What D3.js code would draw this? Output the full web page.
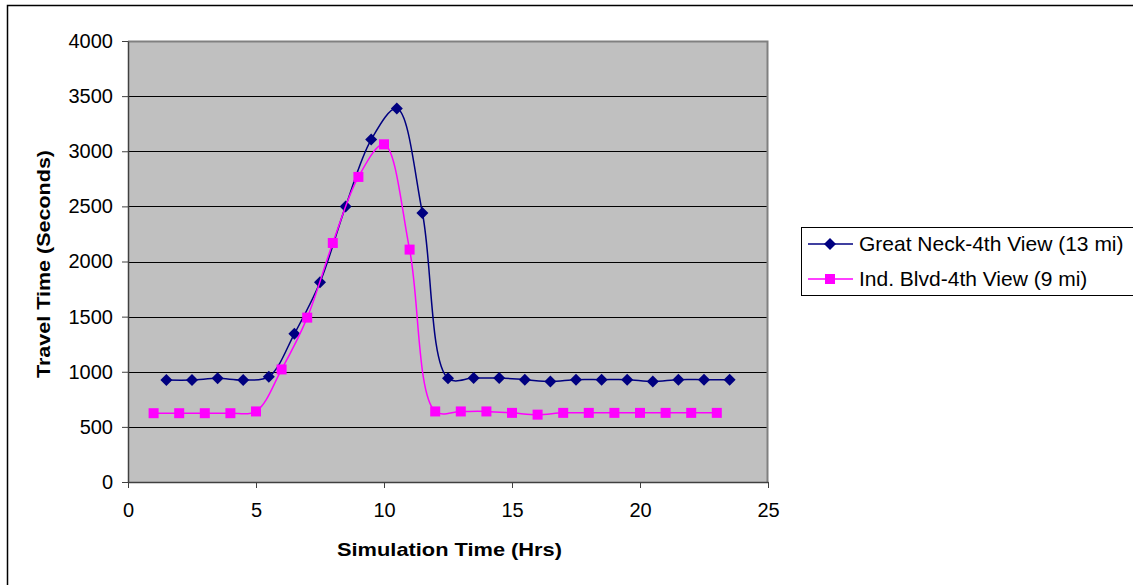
<!DOCTYPE html>
<html lang="en">
<head>
  <meta charset="utf-8">
  <title>Travel Time vs Simulation Time</title>
  <script src="https://d3js.org/d3.v7.min.js"></script>
  <style>
    body { margin: 0; background: #fff; }
    svg text { font-family: "Liberation Sans", Arial, sans-serif; fill: #000; }
  </style>
</head>
<body>
  <div id="chart"></div>
  <script>
    // data
    const greatNeckHrs = [1.5, 2.5, 3.5, 4.5, 5.5, 6.5, 7.5, 8.5, 9.5, 10.5, 11.5, 12.5,
      13.5, 14.5, 15.5, 16.5, 17.5, 18.5, 19.5, 20.5, 21.5, 22.5, 23.5];
    const greatNeckSecs = [925, 925, 940, 925, 955, 1344, 1811, 2500, 3106, 3387, 2440, 940,
      943, 943, 928, 912, 928, 928, 928, 912, 928, 928, 928];
    const indBlvdHrs = [1, 2, 3, 4, 5, 6, 7, 8, 9, 10, 11, 12,
      13, 14, 15, 16, 17, 18, 19, 20, 21, 22, 23];
    const indBlvdSecs = [624, 624, 624, 624, 640, 1021, 1491, 2168, 2767, 3063, 2108, 640,
      640, 640, 627, 611, 627, 627, 627, 627, 627, 627, 627];
    const seriesNames = ["Great Neck-4th View (13 mi)", "Ind. Blvd-4th View (9 mi)"];
    const xTicks = [0, 5, 10, 15, 20, 25];
    const yTicks = [0, 500, 1000, 1500, 2000, 2500, 3000, 3500, 4000];

    const width = 1133, height = 585;
    const plot = { left: 128, right: 768, top: 41, bottom: 482 };

    const svg = d3.select("#chart").append("svg")
      .attr("width", width)
      .attr("height", height);

    // outer chart border
    svg.append("rect")
      .attr("x", 7.5).attr("y", 5.5)
      .attr("width", width + 10).attr("height", height + 10)
      .attr("fill", "none").attr("stroke", "#000").attr("stroke-width", 1.5);

    const x = d3.scaleLinear().domain([0, 25]).range([plot.left, plot.right]);
    const y = d3.scaleLinear().domain([0, 4000]).range([plot.bottom, plot.top]);

    // plot background
    svg.append("rect")
      .attr("x", plot.left).attr("y", plot.top)
      .attr("width", plot.right - plot.left).attr("height", plot.bottom - plot.top)
      .attr("fill", "#c0c0c0");

    // gridlines
    svg.append("g")
      .selectAll("line")
      .data(yTicks.filter(d => d > 0 && d < 4000))
      .join("line")
      .attr("x1", plot.left).attr("x2", plot.right)
      .attr("y1", d => Math.round(y(d)) + 0.5).attr("y2", d => Math.round(y(d)) + 0.5)
      .attr("stroke", "#000").attr("stroke-width", 1);

    // plot border top/right
    svg.append("path")
      .attr("d", `M${plot.left},${plot.top + 0.5}H${plot.right - 0.5}V${plot.bottom}`)
      .attr("fill", "none").attr("stroke", "#808080").attr("stroke-width", 2);

    // axes
    const yAxis = svg.append("g")
      .attr("transform", `translate(${plot.left},0)`)
      .call(d3.axisLeft(y).tickValues(yTicks).tickFormat(d3.format("d"))
        .tickSize(6).tickPadding(9).tickSizeOuter(0));
    const xAxis = svg.append("g")
      .attr("transform", `translate(0,${plot.bottom})`)
      .call(d3.axisBottom(x).tickValues(xTicks).tickFormat(d3.format("d"))
        .tickSize(6).tickPadding(15).tickSizeOuter(0));
    [yAxis, xAxis].forEach(a => {
      a.attr("font-size", null).attr("font-family", null);
      a.select(".domain").attr("stroke", "#404040").attr("stroke-width", 1.5);
      a.selectAll(".tick line").attr("stroke", "#404040");
      a.selectAll(".tick text").style("font-size", "20px");
    });

    // axis titles
    svg.append("text")
      .attr("transform", `translate(50,264) rotate(-90)`)
      .attr("text-anchor", "middle")
      .style("font-size", "19px").attr("font-weight", "bold")
      .attr("textLength", 228).attr("lengthAdjust", "spacingAndGlyphs")
      .text("Travel Time (Seconds)");
    svg.append("text")
      .attr("x", 449.5).attr("y", 556)
      .attr("text-anchor", "middle")
      .style("font-size", "19px").attr("font-weight", "bold")
      .attr("textLength", 225).attr("lengthAdjust", "spacingAndGlyphs")
      .text("Simulation Time (Hrs)");

    const line = d3.line()
      .x(d => x(d[0])).y(d => y(d[1]))
      .curve(d3.curveCatmullRom.alpha(0.5));

    const series = [
      { name: seriesNames[0], pts: d3.zip(greatNeckHrs, greatNeckSecs), color: "#000080", shape: "diamond" },
      { name: seriesNames[1], pts: d3.zip(indBlvdHrs, indBlvdSecs), color: "#ff00ff", shape: "square" }
    ];

    function marker(g, shape, color) {
      if (shape === "diamond") {
        g.append("path").attr("d", "M0,-6L6,0L0,6L-6,0Z").attr("fill", color);
      } else {
        g.append("rect").attr("x", -5).attr("y", -5).attr("width", 10).attr("height", 10).attr("fill", color);
      }
    }

    series.forEach(s => {
      svg.append("path")
        .datum(s.pts)
        .attr("d", line)
        .attr("fill", "none")
        .attr("stroke", s.color)
        .attr("stroke-width", 1.5);
      svg.append("g")
        .selectAll("g")
        .data(s.pts)
        .join("g")
        .attr("transform", d => `translate(${x(d[0])},${y(d[1])})`)
        .each(function () { marker(d3.select(this), s.shape, s.color); });
    });

    // legend
    const legend = svg.append("g");
    legend.append("rect")
      .attr("x", 801.5).attr("y", 227.5)
      .attr("width", 340).attr("height", 68)
      .attr("fill", "#fff").attr("stroke", "#000").attr("stroke-width", 1);
    series.forEach((s, i) => {
      const ly = 244 + i * 35;
      legend.append("line")
        .attr("x1", 808).attr("x2", 853).attr("y1", ly).attr("y2", ly)
        .attr("stroke", s.color).attr("stroke-width", 1.5);
      const m = legend.append("g").attr("transform", `translate(830,${ly})`);
      marker(m, s.shape, s.color);
      legend.append("text")
        .attr("x", 859).attr("y", ly + 7)
        .style("font-size", "21px")
        .text(s.name);
    });
  </script>
</body>
</html>
